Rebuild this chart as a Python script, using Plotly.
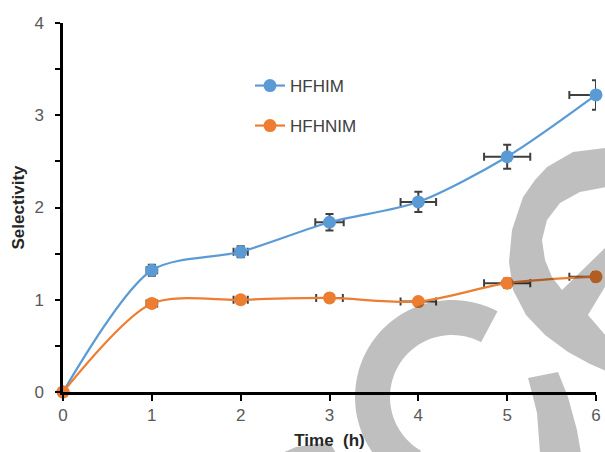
import numpy as np
import plotly.graph_objects as go

# ---------------- data ----------------
time_h = [0, 1, 2, 3, 4, 5, 6]
hfhim = [0, 1.32, 1.52, 1.84, 2.06, 2.55, 3.22]
hfhim_yerr = [0, 0.06, 0.06, 0.09, 0.11, 0.13, 0.16]
hfhim_xerr = [0, 0.06, 0.08, 0.16, 0.20, 0.26, 0.30]
hfnim = [0, 0.96, 1.00, 1.02, 0.98, 1.18, 1.25]
hfnim_yerr = [0, 0.04, 0.04, 0.04, 0.04, 0.05, 0.05]
hfnim_xerr = [0, 0.06, 0.08, 0.15, 0.20, 0.26, 0.30]
series_names = ["HFHIM", "HFHNIM"]
x_ticks = [0, 1, 2, 3, 4, 5, 6]
y_ticks = [0, 1, 2, 3, 4]

# ---------------- layout geometry ----------------
W, H = 605, 452
ML, MR, MT, MB = 63, 9, 23, 60
PW, PH = W - ML - MR, H - MT - MB

BLUE = "#5B9BD5"
ORANGE = "#ED7D31"
ERR = "#3F3F3F"
TXT = "#595959"


def px(xp, yp):
    return (xp - ML) / PW, (H - MB - yp) / PH


def path_from(points, close=True):
    s = ""
    for i, (a, b) in enumerate(points):
        xx, yy = px(a, b)
        s += ("M" if i == 0 else "L") + f"{xx:.5f},{yy:.5f}"
    return s + ("Z" if close else "")


fig = go.Figure()

fig.add_trace(go.Scatter(
    x=time_h, y=hfhim, name=series_names[0], mode="lines+markers",
    line=dict(color=BLUE, width=2.2, shape="spline", smoothing=0.8),
    marker=dict(color=BLUE, size=13),
    error_y=dict(type="data", array=hfhim_yerr, color=ERR, thickness=2, width=4),
    error_x=dict(type="data", array=hfhim_xerr, color=ERR, thickness=2, width=4),
    cliponaxis=False, legend="legend", showlegend=True,
))
fig.add_trace(go.Scatter(
    x=time_h, y=hfnim, name=series_names[1], mode="lines+markers",
    line=dict(color=ORANGE, width=2.2, shape="spline", smoothing=0.8),
    marker=dict(color=ORANGE, size=13),
    error_y=dict(type="data", array=hfnim_yerr, color=ERR, thickness=2, width=4),
    error_x=dict(type="data", array=hfnim_xerr, color=ERR, thickness=2, width=4),
    cliponaxis=False, legend="legend2", showlegend=True,
))

# ---------------- watermark (decorative grey strokes) ----------------
shapes = []
GREY = "rgba(0,0,0,0.25)"
cx, cy, R, r = 452, 397, 97, 62
a0, a1 = np.radians(62), np.radians(240)
ang = np.linspace(a0, a1, 60)
outer = [(cx + R * np.cos(t), cy - R * np.sin(t)) for t in ang]
inner = [(cx + r * np.cos(t), cy - r * np.sin(t)) for t in ang[::-1]]
shapes.append(dict(type="path", path=path_from(outer + inner), xref="paper", yref="paper",
                   fillcolor=GREY, line=dict(width=0), layer="above"))

ring_outer = [(606, 148), (573, 152), (547, 167), (535, 180), (523, 197), (512, 230),
              (509, 262), (513, 290), (526, 315), (545, 335), (568, 352), (590, 364), (606, 371)]
hole = [(606, 187), (580, 192), (560, 203), (547, 220), (542, 240), (545, 260),
        (552, 277), (562, 290), (606, 247)]
wedge = [(606, 285), (588, 315), (606, 336)]
shapes.append(dict(type="path", path=path_from(ring_outer) + path_from(hole) + path_from(wedge),
                   fillrule="evenodd", xref="paper", yref="paper",
                   fillcolor=GREY, line=dict(width=0), layer="above"))

leg_band = [(528, 378), (558, 372), (568, 397), (577, 430), (581, 453), (540, 453),
            (537, 413), (532, 393)]
shapes.append(dict(type="path", path=path_from(leg_band), xref="paper", yref="paper",
                   fillcolor=GREY, line=dict(width=0), layer="above"))

sliver = [(282, 453), (296, 447), (315, 444), (330, 443), (336, 453)]
shapes.append(dict(type="path", path=path_from(sliver), xref="paper", yref="paper",
                   fillcolor=GREY, line=dict(width=0), layer="above"))

lx1, ly1 = px(250, 86)
lx2, ly2 = px(250, 126)

fig.update_layout(
    width=W, height=H,
    margin=dict(l=ML, r=MR, t=MT, b=MB, pad=0),
    paper_bgcolor="white", plot_bgcolor="white",
    font=dict(family="Liberation Sans, Arial, sans-serif", color=TXT),
    shapes=shapes,
    showlegend=True,
    legend=dict(x=lx1, y=ly1, xanchor="left", yanchor="middle", bgcolor="rgba(0,0,0,0)",
                font=dict(size=17, color="#404040")),
    legend2=dict(x=lx2, y=ly2, xanchor="left", yanchor="middle", bgcolor="rgba(0,0,0,0)",
                 font=dict(size=17, color="#404040")),
    xaxis=dict(range=[0, 6], tickvals=x_ticks, showgrid=False, zeroline=False,
               showline=True, linecolor="black", linewidth=2.5,
               ticks="outside", ticklen=6, tickwidth=2, tickcolor="black",
               tickfont=dict(size=17, color=TXT),
               title=dict(text="<b>Time  (h)</b>", font=dict(size=17, color="#262626"), standoff=10),
               automargin=False),
    yaxis=dict(range=[0, 4], tickvals=y_ticks, showgrid=False, zeroline=False,
               showline=True, linecolor="black", linewidth=2.5,
               ticks="outside", ticklen=5, tickwidth=2, tickcolor="black",
               minor=dict(dtick=0.5, ticks="outside", ticklen=5, tickwidth=2, tickcolor="black"),
               tickfont=dict(size=17, color=TXT), ticklabelstandoff=8,
               title=dict(text="<b>Selectivity</b>", font=dict(size=17, color="#262626"), standoff=6),
               automargin=False),
)

fig.write_html("out.html")
